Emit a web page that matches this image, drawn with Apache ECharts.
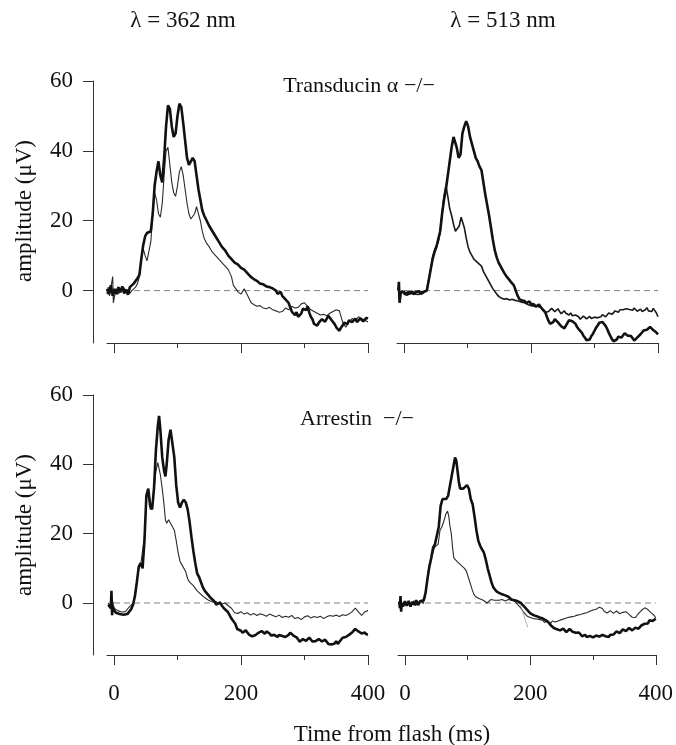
<!DOCTYPE html>
<html>
<head>
<meta charset="utf-8">
<script src="https://cdn.jsdelivr.net/npm/echarts@6/dist/echarts.min.js"></script>
<style>
html,body{margin:0;padding:0;background:#fff;}
#chart{width:676px;height:745px;}
</style>
</head>
<body>
<div id="chart"></div>
<script>
// ---- Data (time in ms, amplitude in µV) ----
const xTicksMajor = [0, 200, 400];
const xTicksMinor = [100, 300];
const yTicks = [0, 20, 40, 60];
const zeroLine = [[0, 0], [400, 0]];

// Transducin alpha -/-, 362 nm
const tl362Thick = [[-11,0.5],[-8,-1],[-5,1.5],[-2,-1.5],[1,0.5],[4,-1],[7,1],[10,-0.5],[13,1.2],[16,-0.8],[19,0.3],[22,-1.2],[25,1],[28,0.5],[31,2],[34,2.5],[37,3.5],[40,4.5],[43,9],[46,13],[49,15.5],[52,16.5],[55,16],[58,17],[61,22],[64,30],[67,34],[70,37],[73,33],[76,31],[79,38],[82,47],[85,53],[88,52],[91,47],[94,44],[97,45],[100,50],[103,53.5],[106,52.5],[109,48],[112,43],[115,38],[118,36],[121,36.5],[124,38],[127,37],[130,33],[133,29],[136,26],[139,23],[142,21.5],[146,20],[150,18.5],[155,17],[160,15.5],[165,14],[170,12.5],[175,11.5],[180,10],[185,9],[190,8],[195,7.5],[200,6.5],[205,6],[210,5],[215,4],[220,3.3],[225,2.8],[230,2],[235,1.8],[240,1.2],[245,1],[250,0.6],[255,0],[257.5,-0.9],[260,-0.8],[262.5,-0.4],[265,-1.5],[267.5,-1.2],[270,-2.5],[272.5,-2],[275,-3.5],[277.5,-4.8],[280,-6],[282.5,-6.3],[285,-7],[287.5,-6.2],[290,-7.5],[292.5,-7.8],[295,-6.5],[297.5,-5.2],[300,-5],[302.5,-5.6],[305,-4.5],[307.5,-6.3],[310,-7.5],[312.5,-8.2],[315,-9.5],[317.5,-9],[320,-10],[322.5,-9.2],[325,-9],[327.5,-8.2],[330,-8],[332.5,-8.9],[335,-8.5],[337.5,-7.2],[340,-7.5],[342.5,-8.4],[345,-8],[347.5,-9.6],[350,-10.5],[352.5,-10.8],[355,-11.5],[357.5,-10.6],[360,-10],[362.5,-9.2],[365,-9],[367.5,-9.6],[370,-8.5],[372.5,-8.1],[375,-9],[377.5,-8.7],[380,-8],[382.5,-9],[385,-8.5],[387.5,-8],[390,-7.5],[392.5,-8.8],[395,-8.5],[397.5,-7.8],[400,-8]];
const tl362Thin = [[-11,-1],[-9,1],[-7,-1.5],[-5,-1],[-2,4],[-1,-3.5],[1,-1.5],[4,0.5],[7,-1],[10,0],[13,-0.5],[16,0.8],[19,-0.5],[22,0.2],[25,-0.8],[28,0],[31,0.5],[34,1],[37,2],[40,4],[43,9],[46,12],[49,10],[52,8.5],[55,9],[58,14],[61,22],[64,28],[67,26],[70,22],[73,21],[76,25],[79,33],[82,40],[85,41],[88,36],[91,31],[94,28],[97,27],[100,30],[103,34],[106,35.5],[109,33],[112,29],[115,25],[118,22],[121,20.5],[124,21],[127,22],[130,24],[133,23.5],[136,20],[139,17],[142,15],[146,13.5],[150,12.5],[155,11],[160,10],[165,9],[170,8],[175,7],[180,6],[185,4],[188,1.5],[192,0.5],[196,-0.5],[200,-1],[205,0.5],[208,0.8],[212,-2],[216,-3.5],[220,-4],[225,-4.5],[230,-4.3],[235,-5],[240,-5.2],[245,-4.8],[250,-5.5],[255,-5.8],[260,-6.2],[265,-6],[270,-5],[275,-5.5],[280,-4.5],[285,-5],[290,-4.8],[295,-3.8],[300,-3.5],[305,-4.5],[310,-5.5],[315,-6],[320,-6.5],[325,-7],[330,-6.8],[335,-7.2],[340,-6.5],[345,-6],[350,-5.5],[355,-5.8],[360,-9],[365,-10.5],[370,-9],[375,-8],[380,-8.5],[385,-7.5],[390,-8],[395,-8.5],[400,-9]];

// Transducin alpha -/-, 513 nm
const tr513Thick = [[-9,0],[-8,2.5],[-7,-3.5],[-5,-0.5],[-3,-1],[0,-0.3],[3,-1.2],[6,-0.4],[9,-1],[12,-0.2],[15,-1.1],[18,-0.5],[21,-0.9],[24,-0.2],[27,-1],[30,-0.4],[33,-0.8],[36,0],[39,3],[42,6],[45,9],[48,11],[51,12.5],[54,13],[57,17],[60,22],[63,26],[66,29],[69,33],[72,37],[75,41],[78,44],[80,44.5],[83,41],[86,38],[89,39],[92,45],[95,47],[98,48.5],[101,47],[104,44],[107,42],[110,40],[113,38],[116,37],[119,35.5],[122,34.5],[125,31],[128,27.5],[131,24.5],[134,21.5],[137,18],[140,14.5],[143,11.5],[146,9.5],[149,8],[152,7],[155,6],[158,5],[161,4.2],[164,3.5],[167,2.8],[170,2.5],[173,1.5],[176,0],[179,-1.5],[182,-2.5],[184,-2],[186,-2.8],[188,-2.4],[190,-3],[192.5,-3.6],[195,-3.5],[197.5,-3.1],[200,-3.8],[202.5,-3.3],[205,-4],[207.5,-4.6],[210,-4.3],[212.5,-4],[215,-4.6],[217.5,-5.2],[220,-5.5],[222.5,-6.2],[225,-7.5],[227.5,-8.6],[230,-9.5],[232.5,-9.8],[235,-9],[237.5,-8.2],[240,-8.5],[242.5,-9.1],[245,-9.5],[247.5,-10.2],[250,-10.5],[252.5,-10.8],[255,-10],[257.5,-9.2],[260,-8.5],[262.5,-8.2],[265,-8.8],[267.5,-9],[270,-9.5],[272.5,-10.4],[275,-11],[277.5,-11.3],[280,-12],[282.5,-12.9],[285,-13.5],[287.5,-14.2],[290,-14.5],[292.5,-14],[295,-13],[297.5,-12.4],[300,-11.5],[302.5,-10.6],[305,-10],[307.5,-9.2],[310,-8.8],[312.5,-9],[315,-9.5],[317.5,-10.1],[320,-11],[322.5,-12.1],[325,-13],[327.5,-13.9],[330,-14.5],[332.5,-14.6],[335,-14],[337.5,-13.2],[340,-13.5],[342.5,-13.4],[345,-13],[347.5,-12.2],[350,-12],[352.5,-12.9],[355,-12.5],[357.5,-13],[360,-13.5],[362.5,-14.3],[365,-14],[367.5,-13.4],[370,-13],[372.5,-12.5],[375,-12.2],[377.5,-11.4],[380,-11.5],[382.5,-11.2],[385,-11],[387.5,-10.4],[390,-10.5],[392.5,-11.3],[395,-11.5],[397.5,-12],[400,-12.5]];
const tr513Thin = [[-9,-0.5],[-6,-1.2],[-3,0],[0,-1],[3,-0.5],[6,-1.3],[9,-0.2],[12,-0.9],[15,-0.3],[18,-1],[21,-0.5],[24,-1.1],[27,-0.2],[30,-0.8],[33,-0.3],[36,0.2],[39,3],[42,6],[45,9.5],[48,11.5],[51,12.8],[54,14],[57,17],[60,22],[63,27],[66,30],[69,27],[72,23.5],[75,21.5],[78,19],[81,17],[84,16.5],[87,18.5],[90,21],[92,21.5],[95,18],[98,15],[101,12.5],[104,11],[107,10],[110,9],[113,8.5],[116,8],[119,7.6],[122,7],[125,5.5],[128,4.5],[131,3.5],[134,2.5],[137,1.5],[140,0.5],[143,0],[146,-1],[150,-1.8],[154,-2.2],[158,-2.5],[162,-2.3],[166,-2.7],[170,-2.5],[175,-2.8],[180,-3],[185,-3.3],[190,-3.5],[195,-4],[200,-4.3],[205,-4.5],[210,-4.5],[215,-4.8],[220,-5.5],[222.5,-6.3],[225,-6.5],[227.5,-6],[230,-5.8],[232.5,-5.1],[235,-5.3],[237.5,-6],[240,-5.5],[242.5,-5.2],[245,-6],[247.5,-6.6],[250,-6.2],[252.5,-5.8],[255,-6.5],[257.5,-6.3],[260,-7],[262.5,-6.4],[265,-7.2],[267.5,-7.6],[270,-7],[272.5,-7.2],[275,-7.5],[277.5,-8.2],[280,-7.8],[282.5,-7.3],[285,-7.5],[287.5,-8.1],[290,-8],[292.5,-7.4],[295,-8],[297.5,-8.3],[300,-7.6],[302.5,-7.2],[305,-7.8],[307.5,-7.9],[310,-7.5],[312.5,-6.9],[315,-7.2],[317.5,-7.5],[320,-7],[322.5,-6.4],[325,-6.5],[327.5,-6.8],[330,-6.3],[332.5,-5.8],[335,-6],[337.5,-6.2],[340,-5.5],[342.5,-5],[345,-5.5],[347.5,-5.7],[350,-5.2],[352.5,-4.8],[355,-5.4],[357.5,-5.1],[360,-5.6],[362.5,-5],[365,-5.3],[367.5,-5.9],[370,-5.8],[372.5,-5.3],[375,-6],[377.5,-5.7],[380,-5.5],[382.5,-4.9],[385,-5.8],[387.5,-6.2],[390,-6],[392.5,-5.1],[395,-5.5],[397.5,-6.4],[400,-7.5]];

// Arrestin -/-, 362 nm
const bl362Thick = [[-9,-0.5],[-7,0],[-5,-1.5],[-4,3.5],[-3,-3.5],[-2,-1],[0,-2],[3,-2.8],[6,-2.5],[9,-3.2],[12,-2.8],[15,-3.4],[18,-2.9],[21,-3.2],[24,-2.5],[27,-1.8],[30,-0.5],[33,2],[36,6],[39,10.5],[42,11.5],[45,10],[48,18],[51,31],[54,33],[57,28],[60,27],[63,33],[66,44],[69,51],[71,54],[73,50],[76,42],[79,38],[81,36.5],[83,40],[86,47],[89,50],[92,49.5],[95,42],[98,34],[101,29],[104,27.5],[107,29],[110,29.8],[113,29],[116,27],[119,23.5],[122,19],[125,15],[128,11.5],[131,8.5],[134,7.5],[137,6],[140,4.5],[143,3.5],[146,3],[149,2.2],[152,1.5],[155,1],[158,0.5],[161,-0.5],[164,-0.3],[167,0.2],[170,-0.8],[173,-1.5],[176,-1.8],[179,-2.5],[182,-3.5],[185,-4.5],[188,-5],[191,-6],[194,-7.5],[197,-7.2],[200,-8],[202.5,-8.6],[205,-8.5],[207.5,-7.9],[210,-8.2],[212.5,-9.1],[215,-9],[217.5,-9.6],[220,-10],[222.5,-9.3],[225,-9.5],[227.5,-8.6],[230,-8.8],[232.5,-8.1],[235,-8.5],[237.5,-8.9],[240,-8.2],[242.5,-8.5],[245,-8.8],[247.5,-9.4],[250,-9],[252.5,-9.2],[255,-9.6],[257.5,-9.8],[260,-9.2],[262.5,-9],[265,-9.5],[267.5,-9.1],[270,-9.8],[272.5,-9.6],[275,-9.2],[277.5,-8.6],[280,-8.8],[282.5,-9.4],[285,-9],[287.5,-9.9],[290,-10.5],[292.5,-11.2],[295,-11],[297.5,-10.4],[300,-10.2],[302.5,-10.9],[305,-10.5],[307.5,-10],[310,-10.3],[312.5,-11.1],[315,-10.8],[317.5,-11],[320,-11.2],[322.5,-10.4],[325,-10.5],[327.5,-11.1],[330,-11.3],[332.5,-10.6],[335,-10.9],[337.5,-11.8],[340,-11.5],[342.5,-12],[345,-12.3],[347.5,-11.7],[350,-11],[352.5,-11.8],[355,-11.5],[357.5,-10.6],[360,-10],[362.5,-10.4],[365,-9.8],[367.5,-9.4],[370,-9.2],[372.5,-9.5],[375,-8.5],[377.5,-8],[380,-7.5],[382.5,-7.9],[385,-8.2],[387.5,-8.4],[390,-8.8],[392.5,-8.3],[395,-8.5],[397.5,-9.1],[400,-9]];
const bl362Thin = [[-9,0],[-7,-1],[-5,0.5],[-4,-2],[-2,0.5],[0,-1.5],[3,-1.8],[6,-2.2],[9,-2],[12,-2.6],[15,-2.2],[18,-2.5],[21,-1.8],[24,-1.2],[27,-0.8],[30,0],[33,2.5],[36,6.5],[39,10],[42,11],[45,10.5],[48,19],[51,30],[54,32],[57,27],[60,28],[63,33],[66,38],[69,40.5],[71,40],[73,37],[76,33],[79,28],[81,24],[83,23],[86,24],[89,24.5],[92,22],[95,21],[98,18],[101,14.5],[104,12],[107,11],[110,10.5],[113,9],[116,7],[119,6],[122,5.5],[125,5],[128,4.2],[131,3.5],[134,3],[137,2.5],[140,2],[143,1.5],[146,1.2],[149,0.8],[152,0.5],[155,0.3],[158,0],[161,0.4],[164,-0.2],[167,0.2],[170,-0.3],[175,0],[180,-0.8],[185,-1.5],[190,-2.8],[195,-3],[200,-2.5],[205,-3.2],[210,-2.8],[215,-3.5],[220,-3],[225,-3.6],[230,-3.1],[235,-3.4],[240,-3.8],[245,-3.2],[250,-3.6],[255,-4],[260,-3.5],[265,-4.2],[270,-3.8],[275,-4.1],[280,-3.6],[285,-4.5],[290,-4.2],[295,-4.8],[300,-4],[305,-3.7],[310,-4.3],[315,-3.9],[320,-4.2],[325,-3.8],[330,-4.5],[335,-4],[340,-3.6],[345,-3.8],[350,-3.5],[355,-3.9],[360,-3.4],[365,-3.6],[370,-3.2],[375,-2.5],[380,-1.5],[383,-1.7],[386,-2.8],[390,-3.6],[395,-2.5],[400,-2.2]];

// Arrestin -/-, 513 nm
const br513Thick = [[-9,0.5],[-8,-1.5],[-7,2],[-6,-2.5],[-5,0],[-3,-1],[0,0.5],[3,-0.8],[6,0.6],[9,-1],[12,0.3],[15,-0.5],[18,0.8],[21,-0.6],[24,0.5],[27,0.2],[30,0.8],[33,3],[36,7],[39,10.5],[42,13],[45,16],[48,17],[51,17.5],[54,22],[57,28],[60,30],[63,30.5],[66,30],[69,31],[72,34],[75,37],[78,40],[80,42],[82,41],[84,38],[86,35],[88,33],[90,32.5],[93,33],[96,33.5],[99,34],[102,33],[105,30],[108,28.5],[111,25],[114,21],[117,18],[120,16.5],[123,15.5],[126,14.5],[129,12.5],[132,10],[135,8],[138,6],[141,4.5],[144,3.8],[147,3.2],[150,3],[155,2.5],[160,2.2],[165,1.8],[170,1],[175,0.8],[180,0.5],[185,0],[190,-1],[195,-2],[200,-3],[205,-3.5],[210,-3.8],[215,-4.2],[220,-4.5],[222.5,-4.9],[225,-5],[227.5,-5.4],[230,-5.8],[232.5,-6.4],[235,-6.5],[237.5,-7.2],[240,-7],[242.5,-7.6],[245,-7.2],[247.5,-7.9],[250,-7.6],[252.5,-7.4],[255,-7.8],[257.5,-8.4],[260,-8],[262.5,-7.5],[265,-7.6],[267.5,-8.3],[270,-8.2],[272.5,-8.6],[275,-8.8],[277.5,-8.5],[280,-9],[282.5,-9.6],[285,-9.5],[287.5,-9.2],[290,-9.8],[292.5,-10.2],[295,-9.5],[297.5,-9.7],[300,-9.9],[302.5,-10.3],[305,-9.4],[307.5,-9.1],[310,-9.7],[312.5,-10],[315,-9.2],[317.5,-9.5],[320,-9.6],[322.5,-10.1],[325,-9.8],[327.5,-9.2],[330,-9.3],[332.5,-9.1],[335,-8.8],[337.5,-8.2],[340,-8.5],[342.5,-8.7],[345,-8.2],[347.5,-7.6],[350,-7.8],[352.5,-8.1],[355,-7.6],[357.5,-7.2],[360,-7.5],[362.5,-7.9],[365,-7.7],[367.5,-7.1],[370,-7.2],[372.5,-7.4],[375,-7],[377.5,-6.4],[380,-6.5],[382.5,-6],[385,-5.5],[387.5,-5.9],[390,-5],[392.5,-4.7],[395,-5.2],[397.5,-4.9],[400,-4.5]];
const br513Thin = [[-9,-0.5],[-8,1.5],[-7,-2],[-6,0.5],[-4,-1],[-1,0.3],[2,-0.7],[5,0.2],[8,-1],[11,-0.2],[14,0.6],[17,-0.8],[20,0],[23,-0.5],[26,0.4],[29,-0.2],[32,1.5],[35,6],[38,10],[41,12],[44,14],[47,16],[50,16.5],[53,17],[56,21],[59,22],[62,23.5],[65,25.5],[68,26.5],[70,25],[72,22],[74,20],[76,16],[78,13],[80,12.5],[83,12],[86,11.5],[89,11],[92,10.5],[95,10],[98,9.2],[101,7.5],[104,5.8],[107,4],[110,2.5],[113,1.8],[116,1.5],[119,1.2],[122,1.3],[125,0.8],[128,0.3],[131,0],[134,0.2],[137,1],[140,1.2],[143,0.8],[146,0.5],[150,0.8],[155,1],[160,0.6],[165,1],[170,0.8],[175,0.5],[180,-0.5],[185,-1.5],[190,-2.8],[195,-3.8],[200,-4.2],[202.5,-4.6],[205,-4.5],[207.5,-4.1],[210,-4.6],[212.5,-5],[215,-4.8],[217.5,-5.2],[220,-5],[222.5,-5.6],[225,-5.4],[227.5,-5.1],[230,-5.6],[232.5,-5.9],[235,-5.2],[237.5,-5.1],[240,-5.5],[242.5,-5.6],[245,-5.1],[247.5,-4.6],[250,-4.8],[252.5,-4.9],[255,-4.5],[257.5,-4],[260,-4.2],[262.5,-4.6],[265,-4],[267.5,-3.6],[270,-3.8],[272.5,-4.1],[275,-3.5],[277.5,-3.1],[280,-3.3],[282.5,-3.6],[285,-3],[287.5,-2.6],[290,-2.8],[292.5,-3],[295,-2.4],[297.5,-2.1],[300,-2],[302.5,-2.3],[305,-1.8],[307.5,-1.5],[310,-1.2],[312,-0.8],[315,-1.6],[317.5,-2.4],[320,-2.2],[322.5,-2.9],[325,-2.6],[327.5,-2.2],[330,-2.4],[332.5,-3],[335,-2.8],[337.5,-2.3],[340,-2.6],[342.5,-3.1],[345,-3],[347.5,-2.7],[350,-3.2],[352.5,-2.5],[355,-2.8],[357.5,-3.3],[360,-3.5],[362.5,-4.1],[365,-4.5],[367.5,-4.2],[370,-3.6],[372.5,-3],[375,-2.5],[377.5,-2.1],[380,-2],[382.5,-1.4],[385,-1.6],[387.5,-1.9],[390,-2.2],[392.5,-2.8],[395,-3.2],[397.5,-3.6],[400,-4.2]];
const br513Stray = [[184,-0.5],[188,-2.5],[192,-5],[196,-7]];

// ---- Chart ----
const FONT = '"Liberation Serif", "Times New Roman", serif';
const INK = '#111';
const AXIS = '#333';

const grids = [
  {left: 107, top: 81, width: 261, height: 262},
  {left: 397, top: 81, width: 261, height: 262},
  {left: 107, top: 395, width: 261, height: 260},
  {left: 398, top: 395, width: 261, height: 260}
];

const xAxis = [];
const yAxis = [];
grids.forEach((g, i) => {
  xAxis.push({
    type: 'value', gridIndex: i, min: -11, max: 400, position: 'bottom',
    axisLine: {show: true, onZero: false, lineStyle: {color: AXIS, width: 1}},
    axisTick: {show: true, customValues: xTicksMajor, length: 10, lineStyle: {color: AXIS, width: 1}},
    axisLabel: {show: i >= 2, customValues: xTicksMajor, margin: 27, fontSize: 23, color: INK, fontFamily: FONT},
    splitLine: {show: false}
  });
  xAxis.push({
    type: 'value', gridIndex: i, min: -11, max: 400, position: 'bottom',
    axisLine: {show: false, onZero: false},
    axisTick: {show: true, customValues: xTicksMinor, length: 5, lineStyle: {color: AXIS, width: 1}},
    axisLabel: {show: false},
    splitLine: {show: false}
  });
  const left = (i % 2 === 0);
  yAxis.push({
    type: 'value', gridIndex: i, min: -15, max: 60, show: left, offset: 14,
    axisLine: {show: true, onZero: false, lineStyle: {color: AXIS, width: 1}},
    axisTick: {show: true, customValues: yTicks, length: 10, lineStyle: {color: AXIS, width: 1}},
    axisLabel: {show: true, customValues: yTicks, margin: 20, fontSize: 23, color: INK, fontFamily: FONT},
    splitLine: {show: false}
  });
});

function trace(data, i, width, color) {
  return {
    type: 'line', data: data, xAxisIndex: 2 * i, yAxisIndex: i,
    showSymbol: false, symbol: 'none', silent: true, animation: false,
    lineStyle: {width: width, color: color}, z: 3
  };
}
function dashed(i) {
  return {
    type: 'line', data: zeroLine, xAxisIndex: 2 * i, yAxisIndex: i,
    showSymbol: false, symbol: 'none', silent: true, animation: false,
    lineStyle: {width: 1, color: '#808080', type: [6, 4]}, z: 2
  };
}

const series = [
  dashed(0), trace(tl362Thin, 0, 1.1, '#2a2a2a'), trace(tl362Thick, 0, 2.6, INK),
  dashed(1), trace(tr513Thin, 1, 1.6, '#1a1a1a'), trace(tr513Thick, 1, 2.6, INK),
  dashed(2), trace(bl362Thin, 2, 1.1, '#2a2a2a'), trace(bl362Thick, 2, 2.6, INK),
  dashed(3), trace(br513Thin, 3, 1.1, '#2a2a2a'), trace(br513Thick, 3, 2.6, INK),
  trace(br513Stray, 3, 0.8, '#999')
];

function txt(x, y, text, size, rot) {
  return {
    type: 'text', x: x, y: y, rotation: rot || 0, silent: true,
    style: {text: text, fill: INK, font: size + 'px ' + FONT, textAlign: 'center', textVerticalAlign: 'middle'}
  };
}

const graphic = [
  txt(183, 21, 'λ = 362 nm', 23),
  txt(503, 21, 'λ = 513 nm', 23),
  txt(359, 86, 'Transducin α −/−', 22),
  txt(357, 419, 'Arrestin  −/−', 22),
  txt(25, 211, 'amplitude (μV)', 23, Math.PI / 2),
  txt(25, 525, 'amplitude (μV)', 23, Math.PI / 2),
  txt(392, 735, 'Time from flash (ms)', 23)
];

const chart = echarts.init(document.getElementById('chart'), null, {renderer: 'canvas'});
chart.setOption({
  animation: false,
  backgroundColor: '#fff',
  grid: grids,
  xAxis: xAxis,
  yAxis: yAxis,
  series: series,
  graphic: graphic
});
</script>
</body>
</html>
